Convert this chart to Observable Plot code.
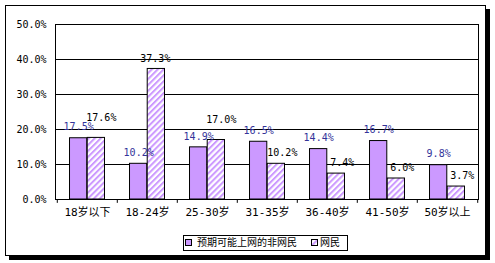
<!DOCTYPE html>
<html><head><meta charset="utf-8">
<script src="https://cdn.jsdelivr.net/npm/d3@7"></script>
<script src="https://cdn.jsdelivr.net/npm/@observablehq/plot@0.6"></script>
<style>
body{margin:0;background:#fff;}
#wrap{position:relative;width:495px;height:263px;overflow:hidden;background:#fff;}
#chart{position:absolute;left:0;top:0;}
#box{position:absolute;left:5px;top:5px;width:479px;height:249px;border:1px solid #000;box-shadow:4px 4px 0 #000;pointer-events:none;}
.lg{position:absolute;}
#lgbox{left:183px;top:235px;width:163px;height:14px;border:1px solid #000;background:#fff;}
.sw{width:5px;height:5px;border:1px solid #000;top:239px;}
.lt{top:236px;font:10px "Noto Sans CJK SC",sans-serif;line-height:12px;color:#000;white-space:nowrap;}
</style>
</head><body>
<div id="wrap"><div id="chart"></div><div id="box"></div></div>
<script>
const categories = ["18岁以下","18-24岁","25-30岁","31-35岁","36-40岁","41-50岁","50岁以上"];
const nonNetizen = [17.5,10.2,14.9,16.5,14.4,16.7,9.8];
const netizen = [17.6,37.3,17.0,10.2,7.4,6.0,3.7];
const seriesNames = ["预期可能上网的非网民","网民"];
const yTicks = [0,10,20,30,40,50];

const rows = categories.map((c,i)=>({category:c, a:nonNetizen[i], b:netizen[i]}));
const purple = "#cc99ff";
const numFont = "DejaVu Sans Mono";
const half = 423/7/2, bw = 17.7;
const fmt = v => v.toFixed(1) + "%";

const lifted = d => Math.abs(d.b - d.a) < 3;
const above = d => d.b - d.a >= 3;
const beside = d => !lifted(d) && !above(d);

const plot = Plot.plot({
  width: 495, height: 263,
  marginLeft: 55, marginRight: 17, marginTop: 24, marginBottom: 64,
  style: {background: "transparent"},
  x: {domain: categories, padding: 0, label: null},
  y: {domain: [0, 50], label: null},
  marks: [
    Plot.gridY(yTicks, {stroke: "#000", strokeOpacity: 1}),
    Plot.frame({stroke: "#000"}),
    Plot.ruleX(categories, {x: d => d, y1: 0, y2: -1.1, dx: -half, stroke: "#000"}),
    Plot.ruleX(categories.slice(-1), {x: d => d, y1: 0, y2: -1.1, dx: half, stroke: "#000"}),
    Plot.barY(rows, {x: "category", y: "a", fill: purple, stroke: "#000", insetLeft: half - bw, insetRight: half}),
    Plot.barY(rows, {x: "category", y: "b", fill: "url(#hatch)", stroke: "#000", insetLeft: half, insetRight: half - bw}),
    Plot.text(rows, {x: "category", y: "a", text: d => fmt(d.a), dx: -bw/2, dy: -11, fill: "#333399", fontFamily: numFont, fontSize: 10}),
    Plot.text(rows.filter(above), {x: "category", y: "b", text: d => fmt(d.b), dx: bw/2 - 1, dy: -10, fill: "#000", fontFamily: numFont, fontSize: 10}),
    Plot.text(rows.filter(lifted), {x: "category", y: "b", text: d => fmt(d.b), dx: bw/2 + 5, dy: -20, fill: "#000", fontFamily: numFont, fontSize: 10}),
    Plot.text(rows.filter(beside), {x: "category", y: "b", text: d => fmt(d.b), dx: bw/2 + 6, dy: -11, fill: "#000", fontFamily: numFont, fontSize: 10}),
    Plot.axisY(yTicks, {tickSize: 0, tickPadding: 9, tickFormat: fmt, fontFamily: numFont, fontSize: 10, fill: "#000", label: null}),
    Plot.axisX({tickSize: 0, tickPadding: 9, fontFamily: numFont + ", Noto Sans CJK SC", fontSize: 11, fill: "#000", label: null})
  ]
});
d3.select(plot).insert("defs", ":first-child").html(
  `<pattern id="hatch" patternUnits="userSpaceOnUse" width="4.2" height="4.2" patternTransform="rotate(45)">
     <rect width="4.2" height="4.2" fill="#fff"/><rect width="2" height="4.2" fill="${purple}"/></pattern>`);
document.getElementById("chart").appendChild(plot);

const wrap = document.getElementById("wrap");
wrap.insertAdjacentHTML("beforeend", `
<div class="lg" id="lgbox"></div>
<div class="lg sw" style="left:185px;background:${purple}"></div>
<div class="lg lt" style="left:197px">${seriesNames[0]}</div>
<svg class="lg" style="left:311px;top:239px" width="7" height="7">
  <defs><pattern id="hatch2" patternUnits="userSpaceOnUse" width="4.2" height="4.2" patternTransform="rotate(45)">
  <rect width="4.2" height="4.2" fill="#fff"/><rect width="2" height="4.2" fill="${purple}"/></pattern></defs>
  <rect x="0.5" y="0.5" width="6" height="6" fill="url(#hatch2)" stroke="#000"/></svg>
<div class="lg lt" style="left:320px">${seriesNames[1]}</div>`);
</script>
</body></html>
